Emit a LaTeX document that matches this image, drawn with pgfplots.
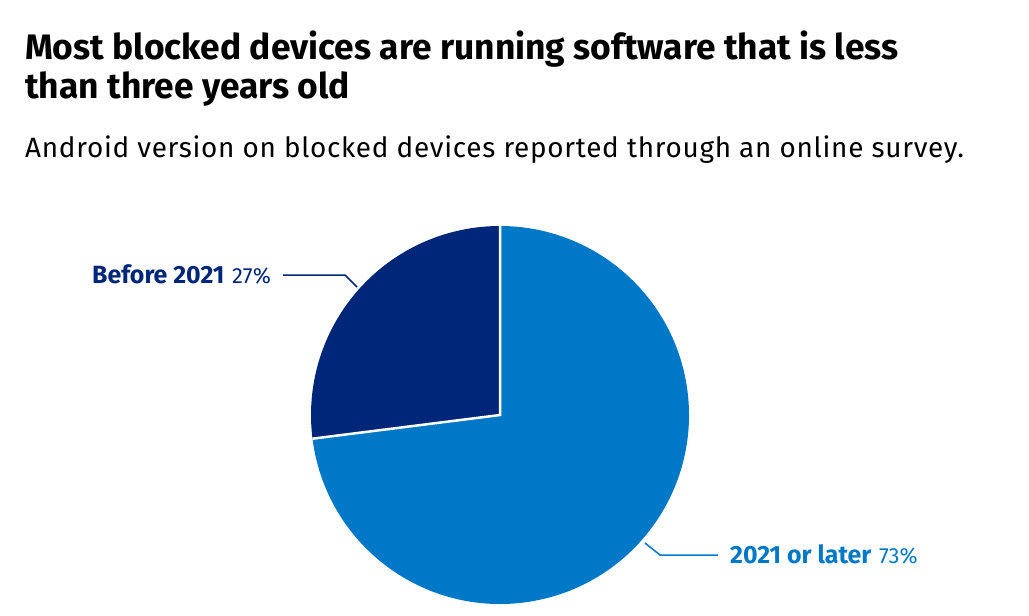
\documentclass[border=0pt]{standalone}
\usepackage{pgfplots}
\pgfplotsset{compat=1.18}
\usepackage{pgfplotstable}
\usepackage{fontspec}
\setmainfont{Fira Sans}
\definecolor{navy}{HTML}{00267A}
\definecolor{ablue}{HTML}{0078C8}

% share of blocked devices by Android version
\pgfplotstableread{
group value
before 27
later 73
}\piedata

\begin{document}%
\begin{tikzpicture}
\pgfplotstablegetelem{0}{value}\of\piedata
\pgfmathsetmacro{\va}{\pgfplotsretval}
\pgfmathsetmacro{\angB}{90+3.6*\va}
\useasboundingbox (0,0) rectangle (1029bp,-616bp);
\begin{axis}[hide axis, scale only axis, clip=false,
    width=378bp, height=378bp, xmin=-1, xmax=1, ymin=-1, ymax=1,
    anchor=center, at={(500bp,-415bp)}]
  \fill[ablue] (axis cs:0,0) -- (axis cs:{cos(\angB)},{sin(\angB)})
    arc[start angle=\angB, end angle=450, radius=189bp] -- cycle;
  \fill[navy] (axis cs:0,0) -- (axis cs:0,1)
    arc[start angle=90, end angle=\angB, radius=189bp] -- cycle;
  \draw[white, line width=2.5bp] (axis cs:0,1) -- (axis cs:0,0)
    -- (axis cs:{cos(\angB)},{sin(\angB)});
\end{axis}
% titles
\node[anchor=base west, inner sep=0, font=\fontsize{35.5}{40}\selectfont\bfseries]
  at (25bp,-59bp) {Most blocked devices are running software that is less};
\node[anchor=base west, inner sep=0, font=\fontsize{35.5}{40}\selectfont\bfseries]
  at (25bp,-98bp) {than three years old};
\node[anchor=base west, inner sep=0, font=\fontsize{28}{30}\selectfont\addfontfeature{LetterSpace=2.6}]
  at (25bp,-157bp) {Android version on blocked devices reported through an online survey.};
% labels
\draw[navy, line width=1.5bp] (283bp,-275bp) -- (345bp,-275bp) -- (357bp,-287bp);
\node[anchor=base west, inner sep=0, text=navy, font=\fontsize{25}{28}\selectfont\bfseries]
  at (92bp,-283bp) {Before 2021};
\node[anchor=base west, inner sep=0, text=navy, font=\fontsize{22}{24}\selectfont]
  at (232bp,-283bp) {27\%};
\draw[ablue, line width=1.5bp] (645bp,-543bp) -- (660bp,-555bp) -- (718bp,-555bp);
\node[anchor=base west, inner sep=0, text=ablue, font=\fontsize{25}{28}\selectfont\bfseries]
  at (730bp,-563bp) {2021 or later};
\node[anchor=base west, inner sep=0, text=ablue, font=\fontsize{22}{24}\selectfont]
  at (879bp,-563bp) {73\%};
\end{tikzpicture}%
\end{document}
